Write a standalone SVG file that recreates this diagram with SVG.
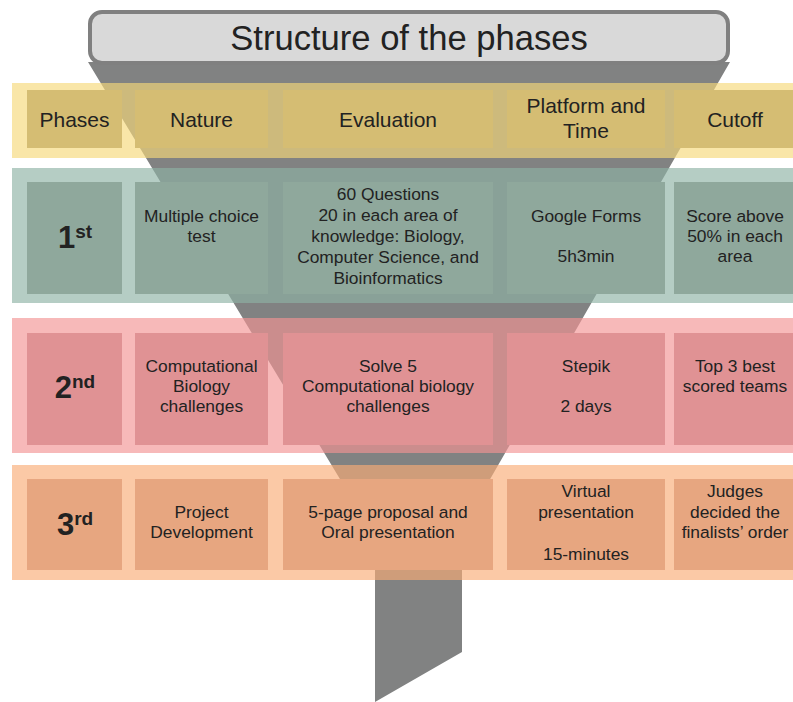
<svg xmlns="http://www.w3.org/2000/svg" width="793" height="702" viewBox="0 0 793 702">
<style>
text{font-family:"Liberation Sans",Arial,sans-serif;fill:#222;text-anchor:middle}
.h{font-size:21px}
.t{font-size:17.4px}
.ph{font-weight:bold}
.b{fill-opacity:0.65}
.cy{fill:#d5bd73}
.cg{fill:#8fa89c}
.cp{fill:#e09294}
.co{fill:#e7a680}
</style>
<rect width="793" height="702" fill="#fff"/>
<g id="funnel">
<polygon points="88,62 730,62 462,528 462,652 375,702 375,537" fill="#818282"/>
</g>
<g id="title">
<rect x="90" y="12" width="638" height="51" rx="12" fill="#d9d9d9" stroke="#808080" stroke-width="4"/>
<text x="409" y="50" style="font-size:34.6px">Structure of the phases</text>
</g>
<g id="bands">
<rect class="b" x="12" y="83" width="790" height="75" fill="#f6d879"/>
<rect class="b" x="12" y="168" width="790" height="135" fill="#8db2a4"/>
<rect class="b" x="12" y="318" width="790" height="135" fill="#f39393"/>
<rect class="b" x="12" y="465" width="790" height="115" fill="#f9ac76"/>
</g>
<g id="header">
<g id="h-phases"><rect class="cy" x="27" y="90" width="95" height="58"/><text class="h" x="74.5" y="127">Phases</text></g>
<g id="h-nature"><rect class="cy" x="135" y="90" width="133" height="58"/><text class="h" x="201.5" y="127">Nature</text></g>
<g id="h-evaluation"><rect class="cy" x="283" y="90" width="210" height="58"/><text class="h" x="388" y="127">Evaluation</text></g>
<g id="h-platform"><rect class="cy" x="507" y="90" width="158" height="58"/><text class="h" x="586" y="113">Platform and</text><text class="h" x="586" y="138">Time</text></g>
<g id="h-cutoff"><rect class="cy" x="674" y="90" width="125" height="58"/><text class="h" x="735" y="127">Cutoff</text></g>
</g>
<g id="row1">
<g id="r1-phase"><rect class="cg" x="27" y="182" width="95" height="112"/><text class="ph" x="75" y="248"><tspan style="font-size:31px">1</tspan><tspan style="font-size:19px" dy="-10">st</tspan></text></g>
<g id="r1-nature"><rect class="cg" x="135" y="182" width="133" height="112"/><text class="t" x="201.5" y="222">Multiple choice</text><text class="t" x="201.5" y="242">test</text></g>
<g id="r1-evaluation"><rect class="cg" x="283" y="182" width="210" height="112"/><text class="t" x="388" y="200">60 Questions</text><text class="t" x="388" y="221">20 in each area of</text><text class="t" x="388" y="242">knowledge: Biology,</text><text class="t" x="388" y="263">Computer Science, and</text><text class="t" x="388" y="284">Bioinformatics</text></g>
<g id="r1-platform"><rect class="cg" x="507" y="182" width="158" height="112"/><text class="t" x="586" y="222">Google Forms</text><text class="t" x="586" y="262">5h3min</text></g>
<g id="r1-cutoff"><rect class="cg" x="674" y="182" width="125" height="112"/><text class="t" x="735" y="222">Score above</text><text class="t" x="735" y="242">50% in each</text><text class="t" x="735" y="262">area</text></g>
</g>
<g id="row2">
<g id="r2-phase"><rect class="cp" x="27" y="333" width="95" height="112"/><text class="ph" x="75" y="398"><tspan style="font-size:31px">2</tspan><tspan style="font-size:19px" dy="-10">nd</tspan></text></g>
<g id="r2-nature"><rect class="cp" x="135" y="333" width="133" height="112"/><text class="t" x="201.5" y="372">Computational</text><text class="t" x="201.5" y="392">Biology</text><text class="t" x="201.5" y="412">challenges</text></g>
<g id="r2-evaluation"><rect class="cp" x="283" y="333" width="210" height="112"/><text class="t" x="388" y="372">Solve 5</text><text class="t" x="388" y="392">Computational biology</text><text class="t" x="388" y="412">challenges</text></g>
<g id="r2-platform"><rect class="cp" x="507" y="333" width="158" height="112"/><text class="t" x="586" y="372">Stepik</text><text class="t" x="586" y="412">2 days</text></g>
<g id="r2-cutoff"><rect class="cp" x="674" y="333" width="125" height="112"/><text class="t" x="735" y="372">Top 3 best</text><text class="t" x="735" y="392">scored teams</text></g>
</g>
<g id="row3">
<g id="r3-phase"><rect class="co" x="27" y="479" width="95" height="91"/><text class="ph" x="75" y="535"><tspan style="font-size:31px">3</tspan><tspan style="font-size:19px" dy="-10">rd</tspan></text></g>
<g id="r3-nature"><rect class="co" x="135" y="479" width="133" height="91"/><text class="t" x="201.5" y="518">Project</text><text class="t" x="201.5" y="538">Development</text></g>
<g id="r3-evaluation"><rect class="co" x="283" y="479" width="210" height="91"/><text class="t" x="388" y="518">5-page proposal and</text><text class="t" x="388" y="538">Oral presentation</text></g>
<g id="r3-platform"><rect class="co" x="507" y="479" width="158" height="91"/><text class="t" x="586" y="497">Virtual</text><text class="t" x="586" y="518">presentation</text><text class="t" x="586" y="560">15-minutes</text></g>
<g id="r3-cutoff"><rect class="co" x="674" y="479" width="125" height="91"/><text class="t" x="735" y="497">Judges</text><text class="t" x="735" y="518">decided the</text><text class="t" x="735" y="538">finalists’ order</text></g>
</g>
</svg>
